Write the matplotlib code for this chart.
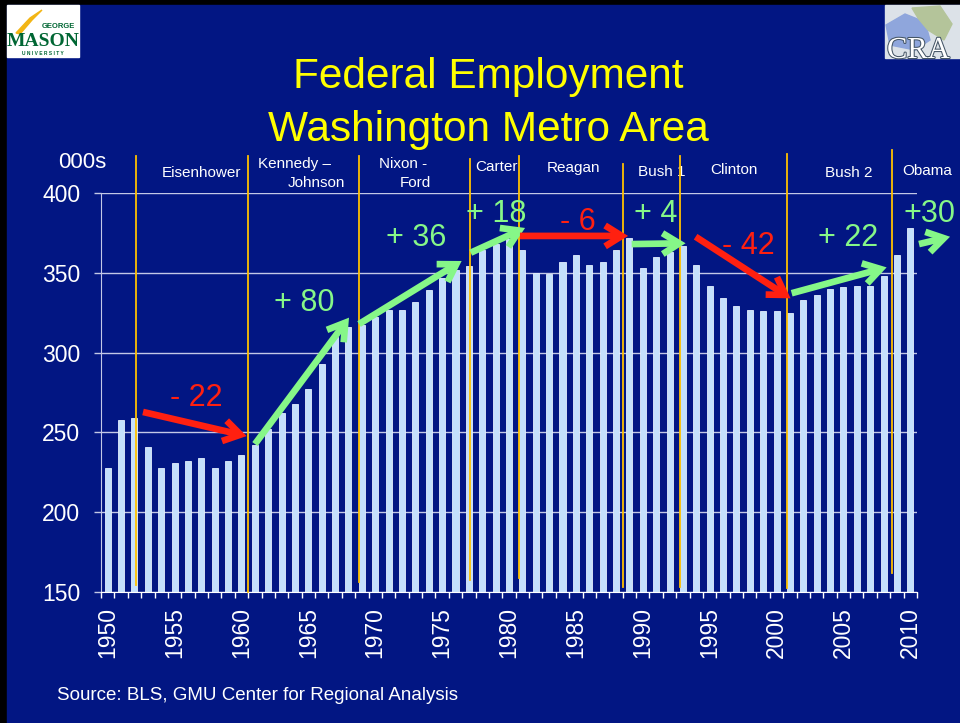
import matplotlib
matplotlib.use('Agg')
import matplotlib.pyplot as plt
from matplotlib.patches import FancyArrowPatch, Rectangle, Polygon
import matplotlib.patheffects as pe

plt.rcParams['font.family'] = ['Liberation Sans', 'DejaVu Sans']

# ── data (thousands of federal jobs, Washington metro) ─────────────────────
years = list(range(1950, 2011))
employment = [228, 258, 259, 241, 228, 231, 232, 234, 228, 232,
              236, 242, 252, 262, 268, 277, 293, 310, 316, 317,
              322, 327, 327, 332, 339, 347, 352, 354, 364, 368,
              371, 364, 350, 349, 357, 361, 355, 357, 364, 372,
              353, 360, 363, 367, 355, 342, 334, 329, 327, 326,
              326, 325, 333, 336, 340, 341, 342, 342, 348, 361, 378]
year_labels = [str(y) for y in range(1950, 2011, 5)]
y_ticks = [150, 200, 250, 300, 350, 400]

# administration boundaries
era_x = [1952.1, 1960.5, 1968.8, 1977.1, 1980.75, 1988.55, 1992.8, 2000.75, 2008.65]
era_top = [423, 423, 423, 421.5, 423, 418, 423, 424.5, 427]
era_bottom = [154.5, 150, 156, 157.5, 159, 153, 153, 152.5, 162]

presidents = ['Eisenhower', 'Kennedy \u2013', 'Johnson', 'Nixon -', 'Ford', 'Carter',
              'Reagan', 'Bush 1', 'Clinton', 'Bush 2', 'Obama']
pres_x = [1956.98, 1964.0, 1965.6, 1972.1, 1973.0, 1979.1, 1984.8, 1991.4, 1996.8, 2005.4, 2011.25]
pres_y = [412.3, 418.2, 406.1, 418.2, 406.3, 416.5, 415.7, 413.3, 414.4, 412.7, 414.0]

# change per administration: label, arrow start, arrow end, label position
change_labels = ['- 22', '+ 80', '+ 36', '+ 18', '- 6', '+ 4', '- 42', '+ 22', '+30']
change_start = [(1952.64, 262.8), (1961.01, 242.7), (1968.79, 317.9), (1977.14, 362.6),
                (1980.82, 373.1), (1989.17, 368.0), (1993.95, 372.6), (2001.13, 337.2),
                (2010.65, 368.0)]
change_end = [(1960.39, 247.7), (1968.04, 321.9), (1976.46, 357.4), (1981.2, 378.1),
              (1988.9, 373.1), (1993.2, 368.5), (2001.05, 334.0), (2008.23, 353.4),
              (2012.97, 372.6)]
change_text = [(1956.6, 271.6), (1964.7, 331.1), (1973.05, 371.8), (1979.03, 386.8),
               (1985.16, 381.8), (1990.99, 386.8), (1997.87, 366.8), (2005.34, 371.8),
               (2011.4, 386.8)]

NAVY = '#021683'
GRID = '#C3C8E6'
RED = '#FF2010'
GREEN = '#86F788'

W, H = 960, 723


def px(x, y):
    return x / W, 1 - y / H


fig = plt.figure(figsize=(9.6, 7.23), dpi=100, facecolor='black')
fig.patches.append(Rectangle(px(7, 723), (W - 7) / W, (723 - 5) / H,
                             transform=fig.transFigure, color=NAVY, zorder=-10))

ax = fig.add_axes([101 / W, 1 - 592 / H, 816 / W, 399 / H])
ax.set_facecolor('none')

# ── bars ───────────────────────────────────────────────────────────────────
ax.bar(years, employment, width=0.45, color='#C4E0FC', edgecolor='#E4F0FF',
       linewidth=0.6, zorder=2)
ax.set_xlim(1949.5, 2010.5)
ax.set_ylim(150, 400)

ax.set_yticks(y_ticks)
ax.set_yticklabels([str(v) for v in y_ticks])
ax.set_xticks(list(range(1950, 2011, 5)))
ax.set_xticklabels(year_labels, rotation=90)
ax.set_xticks([y + 0.5 for y in range(1949, 2011)], minor=True)
ax.tick_params(axis='x', which='major', length=0, pad=11, labelsize=16.5,
               labelcolor='white')
ax.tick_params(axis='x', which='minor', length=4, width=1, color='white')
ax.tick_params(axis='y', length=5, width=1, color=GRID, pad=10,
               labelsize=16.5, labelcolor='white')
ax.yaxis.grid(True, color=GRID, linewidth=1, zorder=1)
ax.set_axisbelow(True)
for s in ['top', 'right']:
    ax.spines[s].set_visible(False)
ax.spines['left'].set_color(GRID)
ax.spines['bottom'].set_color('white')
ax.spines['bottom'].set_zorder(3)

# ── administration lines and names ─────────────────────────────────────────
for x, top, bot in zip(era_x, era_top, era_bottom):
    ax.plot([x, x], [bot, top], color='#FFC000', lw=1.3, zorder=4, clip_on=False)

for name, x, y in zip(presidents, pres_x, pres_y):
    ax.text(x, y, name, color='white', fontsize=11, ha='center', va='center')

# ── change arrows ──────────────────────────────────────────────────────────
for lab, a, b, t in zip(change_labels, change_start, change_end, change_text):
    col = RED if lab.startswith('-') else GREEN
    arr = FancyArrowPatch(a, b, arrowstyle='->,head_length=12,head_width=7.5',
                          mutation_scale=1, lw=4.8, color=col,
                          shrinkA=0, shrinkB=0, zorder=6, clip_on=False,
                          capstyle='butt', joinstyle='miter')
    ax.add_patch(arr)
    ax.text(t[0], t[1], lab, color=col, fontsize=22, ha='center', va='center',
            zorder=7)

# ── titles and notes ───────────────────────────────────────────────────────
fig.text(*px(488, 88), 'Federal Employment', color='#FFFF00', fontsize=30.5,
         ha='center', va='baseline')
fig.text(*px(488, 140.5), 'Washington Metro Area', color='#FFFF00', fontsize=30.5,
         ha='center', va='baseline')
fig.text(*px(82, 163), '000s', color='white', fontsize=16, ha='center', va='center')
fig.text(*px(57, 700), 'Source: BLS, GMU Center for Regional Analysis',
         color='white', fontsize=13.5, ha='left', va='baseline')

# ── logos (rough) ──────────────────────────────────────────────────────────
fig.patches.append(Rectangle(px(7, 57), 72 / W, 52 / H, transform=fig.transFigure,
                             color='white', zorder=1))
fig.patches.append(Polygon([px(16, 33), px(30, 18), px(42, 10), px(32, 20), px(20, 34)],
                           closed=True, transform=fig.transFigure,
                           color='#F2B515', zorder=2))
fig.text(*px(58, 27), 'GEORGE', color='#006633', fontsize=5.5, fontweight='bold',
         ha='center', va='center', zorder=3)
fig.text(*px(43, 46), 'MASON', color='#006633', fontsize=14, fontweight='bold',
         family='Liberation Serif', ha='center', va='baseline', zorder=3)
fig.text(*px(43, 53.5), 'U N I V E R S I T Y', color='#006633', fontsize=3.5,
         fontweight='bold', ha='center', va='center', zorder=3)

fig.patches.append(Rectangle(px(885, 58), 75 / W, 53 / H, transform=fig.transFigure,
                             color='#DCE2E8', zorder=1))
fig.patches.append(Polygon([px(886, 25), px(905, 14), px(925, 22), px(930, 40),
                            px(915, 50), px(890, 45)], closed=True,
                           transform=fig.transFigure, color='#8FA6DC', zorder=2))
fig.patches.append(Polygon([px(912, 8), px(940, 6), px(952, 24), px(944, 40),
                            px(928, 30), px(918, 18)], closed=True,
                           transform=fig.transFigure, color='#B4C49A', zorder=2))
fig.text(*px(887, 58), 'CRA', color='white', fontsize=22, family='Liberation Serif',
         ha='left', va='baseline', zorder=3,
         path_effects=[pe.withStroke(linewidth=1.5, foreground='#445566')])

fig.savefig('out.png', dpi=100, facecolor=fig.get_facecolor())
